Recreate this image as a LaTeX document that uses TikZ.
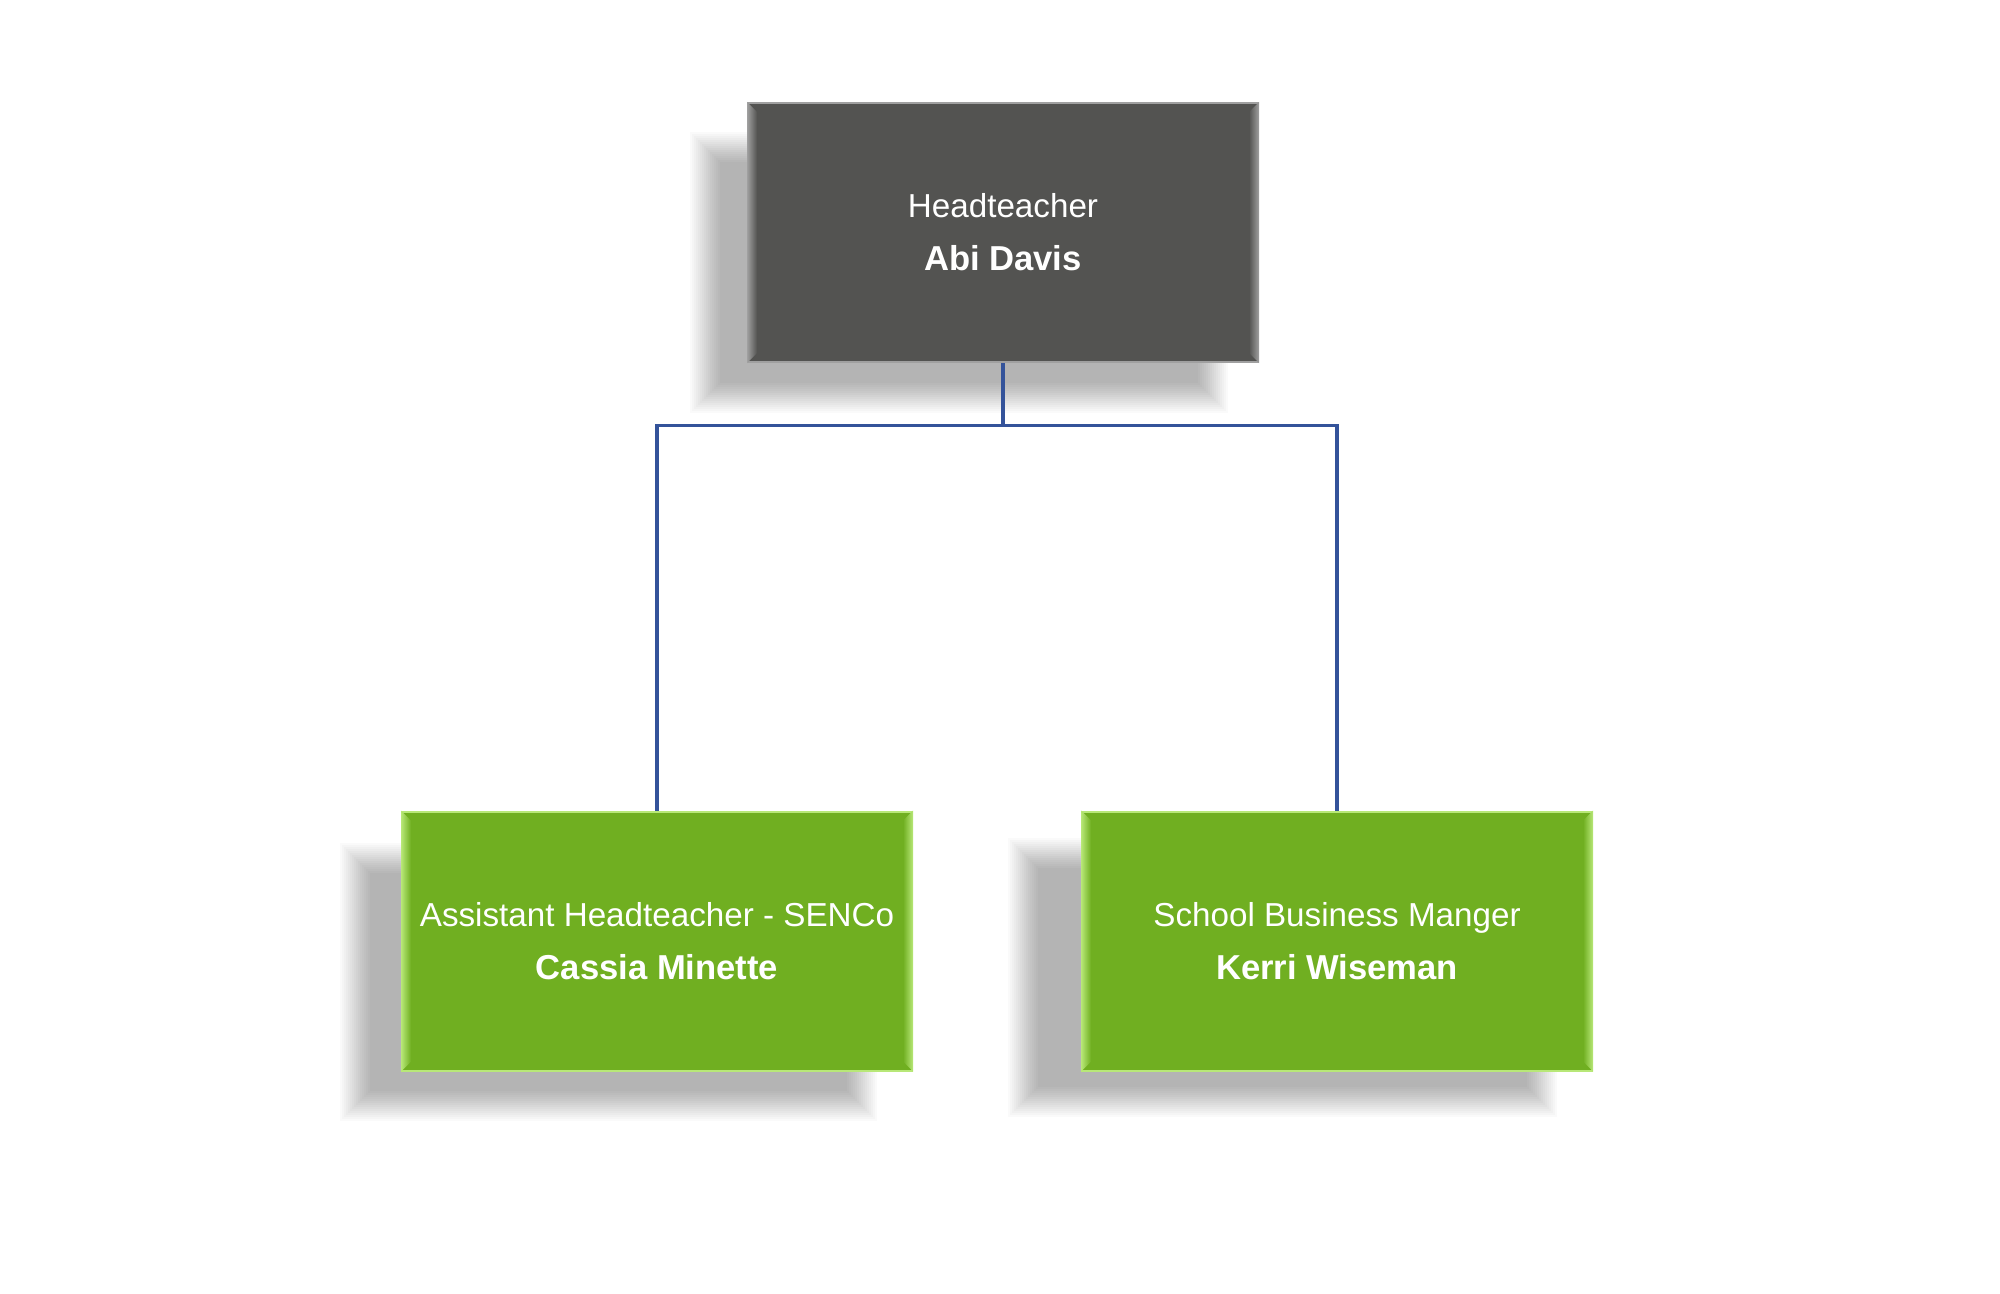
\documentclass[tikz,border=0pt]{standalone}
\usepackage{fontspec}
\setmainfont{Liberation Sans}
\usetikzlibrary{calc}
\definecolor{headfill}{HTML}{535351}
\definecolor{headedge}{HTML}{A0A0A0}
\definecolor{greenfill}{HTML}{70AF21}
\definecolor{greenedge}{HTML}{B8E878}
\definecolor{connblue}{HTML}{34539A}
\tikzset{
  orgbox/.style={rectangle, minimum width=255pt, minimum height=129.5pt, inner sep=0pt,
    text=white, align=center, line width=1pt,
    font=\fontsize{16.6}{26.5}\selectfont},
  headbox/.style={orgbox, fill=headfill, draw=headedge},
  greenbox/.style={orgbox, fill=greenfill, draw=greenedge},
  conn/.style={draw=connblue, line width=1.65pt},
  shadowlayer/.style={fill=black, opacity=0.021}
}
\newcommand\softshadow[4]{%
  \foreach \i in {0,...,15}{%
    \fill[shadowlayer] ({#1-15+\i*2},{#2-15+\i*2}) rectangle ({#3+15-\i*2},{#4+15-\i*2});
  }%
}
\newcommand\bevel[3]{% node, light color, fill color
  \shade[left color=#2, right color=#3] (#1.north west) -- ++(10,10) -- ($(#1.south west)+(10,-10)$) -- (#1.south west) -- cycle;
  \shade[left color=#3, right color=#2] (#1.north east) -- ++(-10,10) -- ($(#1.south east)+(-10,-10)$) -- (#1.south east) -- cycle;
}
\begin{document}
\begin{tikzpicture}[x=0.5pt,y=-0.5pt]
\useasboundingbox[fill=white] (0,0) rectangle (2000,1294);
% shadows
\softshadow{705}{147}{1213}{398}
\softshadow{355}{858}{862}{1106}
\softshadow{1023}{853}{1542}{1102}
% boxes
\node[headbox] (head) at (1003,232.5) {Headteacher\\{\fontsize{17.3}{26.5}\selectfont\bfseries Abi Davis}};
\node[greenbox] (asst) at (657,941) {Assistant Headteacher - SENCo\\{\fontsize{17.3}{26.5}\selectfont\bfseries Cassia Minette}};
\node[greenbox] (sbm) at (1337,941) {School Business Manger\\{\fontsize{17.3}{26.5}\selectfont\bfseries Kerri Wiseman}};
\bevel{head}{headedge}{headfill}
\bevel{asst}{greenedge}{greenfill}
\bevel{sbm}{greenedge}{greenfill}
% connectors
\coordinate (bus) at (1003,425.5);
\draw[conn] (head.south) -- (head.south |- bus) -| (asst.north);
\draw[conn] (head.south |- bus) -| (sbm.north);
\end{tikzpicture}
\end{document}
